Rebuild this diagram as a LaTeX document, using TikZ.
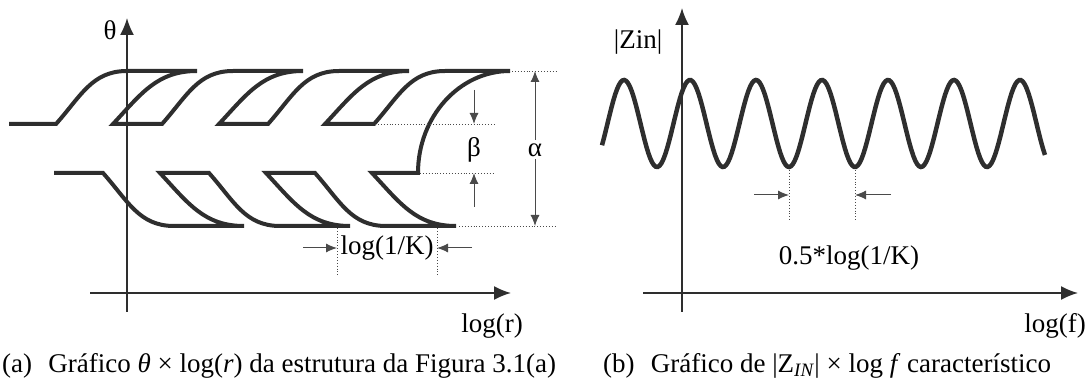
\documentclass[tikz,border=0pt]{standalone}
\usepackage{fontspec}
\setmainfont{Liberation Serif}
\usetikzlibrary{arrows.meta}
\definecolor{ink}{HTML}{2E2E2E}
\definecolor{dimink}{HTML}{4A4A4A}

\begin{document}
\begin{tikzpicture}[x=1pt, y=-1pt, font=\fontsize{27}{30}\selectfont,
  band/.style={line width=4pt, draw=ink},
  axis/.style={line width=1.7pt, draw=ink, -{Latex[length=17pt,width=14pt]}},
  dim/.style={line width=1pt, draw=dimink, -{Latex[length=11pt,width=9pt]}},
  guide/.style={line width=0.9pt, draw=dimink, dotted}]
\useasboundingbox (0,0) rectangle (1087,387);
% left: theta x log(r)
\draw[axis] (90,293) -- (511,293);
\draw[axis] (127,312) -- (127,18);
\node (theta) at (110,30) {θ};
\node (logr) at (492,326) {log(r)};
\draw[band] (9,124) -- (56,124)
  \foreach \k in {0,1,2} {
    .. controls +(25,-28) and +(-35,0) .. ({127+106*\k},71) -- ({197+106*\k},71)
    .. controls +(-40,0) and +(28,-30) .. ({113+106*\k},124) -- ({162+106*\k},124)
  }
  .. controls +(25,-28) and +(-35,0) .. (445,71) -- (510,71)
  .. controls +(-51,0) and +(0,-56) .. (418,173) -- (372,173)
  \foreach \k in {2,1,0} {
    .. controls +(28,30) and +(-40,0) .. ({244+106*\k},226) -- ({174+106*\k},226)
    .. controls +(-35,0) and +(25,28) .. ({103+106*\k},173) -- ({54+106*\k},173)
  };
% alpha and beta
\draw[guide] (512,71) -- (557,71) (459,226) -- (557,226);
\draw[guide] (375,124) -- (494,124) (420,173) -- (494,173);
\coordinate (atop) at (535,71);
\coordinate (abot) at (535,226);
\draw[dim, {Latex[length=11pt,width=9pt]}-{Latex[length=11pt,width=9pt]}] (atop) -- (abot);
\node[fill=white, inner sep=3pt] (alpha) at (535,150) {α};
\node (beta) at (474,150) {β};
\coordinate (b1) at (474,90);
\coordinate (b2) at (474,124);
\coordinate (b3) at (474,207);
\coordinate (b4) at (474,173);
\draw[dim] (b1) -- (b2);
\draw[dim] (b3) -- (b4);
% log(1/K)
\draw[guide] (337,228) -- (337,275) (437,228) -- (437,275);
\coordinate (k1) at (303,248);
\coordinate (k2) at (337,248);
\coordinate (k3) at (472,248);
\coordinate (k4) at (437,248);
\draw[dim] (k1) -- (k2);
\draw[dim] (k3) -- (k4);
\node (lk) at (387,248) {log(1/K)};
% right: |Zin| x log(f)
\draw[axis] (643,293) -- (1078,293);
\draw[axis] (682,312) -- (682,8);
\node (zin) at (638,42) {|Zin|};
\node[anchor=east, inner sep=1pt] (logf) at (1087,326) {log(f)};
\draw[band, line width=4.5pt] plot[domain=602:1045, samples=240] (\x, {123.5-43.5*cos((\x-624)/66*360)});
\draw[guide] (789,170) -- (789,222) (855,170) -- (855,222);
\coordinate (h1) at (754,195);
\coordinate (h2) at (789,195);
\coordinate (h3) at (891,195);
\coordinate (h4) at (855,195);
\draw[dim] (h1) -- (h2);
\draw[dim] (h3) -- (h4);
\node (hk) at (849,258) {0.5*log(1/K)};
% captions
\node[anchor=west, inner sep=0pt] (capa) at (2,366) {(a)\hspace{0.35em} Gráfico \textit{θ} × log(\textit{r}) da estrutura da Figura 3.1(a)};
\node[anchor=west, inner sep=0pt] (capb) at (603,366) {(b)\hspace{0.35em} Gráfico de |Z\textsubscript{\textit{IN}}| × log \textit{f} característico};
\end{tikzpicture}
\end{document}
